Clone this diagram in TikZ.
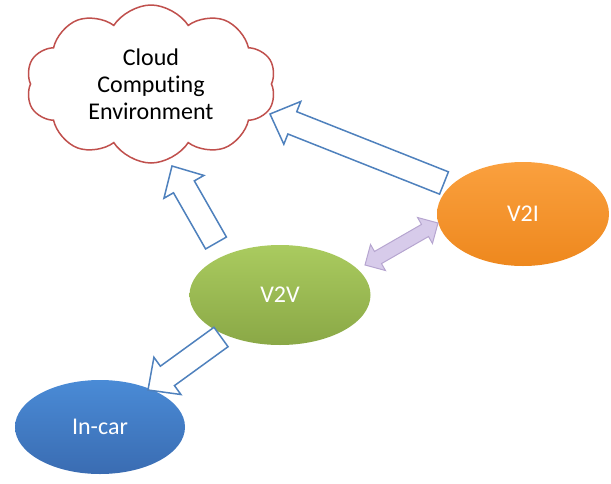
\documentclass[tikz,border=0pt]{standalone}
\usepackage{fontspec}
\setmainfont{Carlito}[Ligatures=NoCommon]
\usepackage{tikz}
\usetikzlibrary{shapes.symbols,shapes.geometric,calc,positioning}

\definecolor{cloudred}{HTML}{C0504D}
\definecolor{arrowblue}{HTML}{4F81BD}
\definecolor{lilacfill}{HTML}{D7CBEA}
\definecolor{lilacline}{HTML}{B6A5D0}

% hollow block arrow from #2 to #3
\newcommand{\blockarrow}[3]{%
  \draw[#1] ($(#2)!12pt!90:(#3)$) -- ($($(#3)!24pt!(#2)$)!12pt!90:(#3)$)
    -- ($($(#3)!24pt!(#2)$)!23pt!90:(#3)$) -- (#3)
    -- ($($(#3)!24pt!(#2)$)!23pt!-90:(#3)$) -- ($($(#3)!24pt!(#2)$)!12pt!-90:(#3)$)
    -- ($(#2)!12pt!-90:(#3)$) -- cycle;}

% two headed block arrow between #2 and #3
\newcommand{\twowayarrow}[3]{%
  \draw[#1] (#2) -- ($($(#2)!15pt!(#3)$)!15pt!90:(#3)$) -- ($($(#2)!15pt!(#3)$)!7pt!90:(#3)$)
    -- ($($(#3)!15pt!(#2)$)!7pt!-90:(#2)$) -- ($($(#3)!15pt!(#2)$)!15pt!-90:(#2)$) -- (#3)
    -- ($($(#3)!15pt!(#2)$)!15pt!90:(#2)$) -- ($($(#3)!15pt!(#2)$)!7pt!90:(#2)$)
    -- ($($(#2)!15pt!(#3)$)!7pt!-90:(#3)$) -- ($($(#2)!15pt!(#3)$)!15pt!-90:(#3)$) -- cycle;}

\begin{document}
\begin{tikzpicture}[x=1pt, y=-1pt, every node/.style={font=\fontsize{24}{27}\selectfont},
  netnode/.style={ellipse, text=white, inner sep=0pt},
  hollow/.style={draw=arrowblue, line width=1.5pt, fill=white, line join=miter},
  lilac/.style={draw=lilacline, line width=1pt, fill=lilacfill, line join=miter}]
\useasboundingbox (0,0) rectangle (611,483);

\node (cloud) [cloud, cloud puffs=10, cloud puff arc=115, cloud ignores aspect, draw=cloudred, line width=1.5pt, fill=white,
  minimum width=250pt, minimum height=158pt, inner xsep=0pt, inner ysep=-16pt, align=center] at (151,84) {Cloud\\Computing\\Environment};
\node (v2v) [netnode, minimum width=181pt, minimum height=100pt, top color={rgb,255:red,170;green,203;blue,95}, bottom color={rgb,255:red,138;green,168;blue,70}] at (280,295) {V2V};
\node (v2i) [netnode, minimum width=172pt, minimum height=104pt, top color={rgb,255:red,250;green,160;blue,62}, bottom color={rgb,255:red,238;green,136;blue,30}] at (523,214) {V2I};
\node (incar) [netnode, minimum width=170pt, minimum height=94pt, top color={rgb,255:red,74;green,139;blue,214}, bottom color={rgb,255:red,58;green,108;blue,178}] at (100,427) {In-car};

\coordinate (v2v up) at (216,243);
\coordinate (cloud low) at (172,166);
\coordinate (v2i left) at (444,183);
\coordinate (cloud right) at (270,114);
\coordinate (v2v down) at (221,337);
\coordinate (incar top) at (148,390);
\coordinate (v2v side) at (365,265);
\coordinate (v2i side) at (438,223);

\blockarrow{hollow}{v2v up}{cloud low}
\blockarrow{hollow}{v2i left}{cloud right}
\blockarrow{hollow}{v2v down}{incar top}
\twowayarrow{lilac}{v2v side}{v2i side}
\end{tikzpicture}
\end{document}
